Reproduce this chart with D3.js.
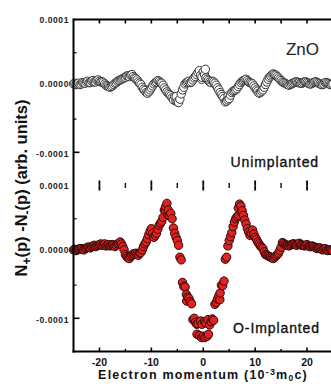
<!DOCTYPE html>
<html><head><meta charset="utf-8">
<script src="https://cdn.jsdelivr.net/npm/d3@7"></script>
<style>body{margin:0;background:#fff}svg{display:block}</style>
</head><body>
<script>
// momentum grid (10^-3 m0c)
const momentum = [-25,-24.5,-24,-23.5,-23,-22.5,-22,-21.5,-21,-20.5,-20,-19.5,-19,-18.5,-18,-17.5,-17,-16.5,-16,-15.5,-15,-14.5,-14,-13.5,-13,-12.5,-12,-11.5,-11,-10.5,-10,-9.5,-9,-8.5,-8,-7.5,-7,-6.5,-6,-5.5,-5,-4.5,-4,-3.5,-3,-2.5,-2,-1.5,-1,-0.5,0,0.5,1,1.5,2,2.5,3,3.5,4,4.5,5,5.5,6,6.5,7,7.5,8,8.5,9,9.5,10,10.5,11,11.5,12,12.5,13,13.5,14,14.5,15,15.5,16,16.5,17,17.5,18,18.5,19,19.5,20,20.5,21,21.5,22,22.5,23,23.5,24,24.5,25];
const momentumHalf = [-24.75,-24.25,-23.75,-23.25,-22.75,-22.25,-21.75,-21.25,-20.75,-20.25,-19.75,-19.25,-18.75,-18.25,-17.75,-17.25,-16.75,-16.25,-15.75,-15.25,-14.75,-14.25,-13.75,-13.25,-12.75,-12.25,-11.75,-11.25,-10.75,-10.25,-9.75,-9.25,-8.75,-8.25,-7.75,-7.25,-6.75,-6.25,-5.75,-5.25,-4.75,-4.25,-3.75,-3.25,-2.75,-2.25,-1.75,-1.25,-0.75,-0.25,0.25,0.75,1.25,1.75,2.25,2.75,3.25,3.75,4.25,4.75,5.25,5.75,6.25,6.75,7.25,7.75,8.25,8.75,9.25,9.75,10.25,10.75,11.25,11.75,12.25,12.75,13.25,13.75,14.25,14.75,15.25,15.75,16.25,16.75,17.25,17.75,18.25,18.75,19.25,19.75,20.25,20.75,21.25,21.75,22.25,22.75,23.25,23.75,24.25,24.75];
// values in units of 1e-5
const unimplanted = [0.3,0.2,0.4,0.3,0.5,0.6,0.5,0.7,0.6,0.8,0.7,0.6,0.3,0.0,-0.2,0.0,0.4,0.7,0.9,1.1,1.3,1.5,1.6,1.4,1.1,0.6,0.2,-0.5,-1.0,-0.9,-0.3,0.3,0.6,0.7,0.4,-0.3,-0.9,-1.3,-1.8,-1.6,-2.4,-2.0,-0.6,0.3,0.6,0.5,0.9,1.4,2.0,1.6,2.1,1.2,0.8,0.5,0.6,0.1,-0.6,-1.3,-1.9,-2.3,-1.9,-1.0,-0.7,-0.4,0.2,0.7,0.9,0.8,0.5,0.3,-0.3,-0.8,-1.0,-0.6,0.2,1.0,1.5,1.8,1.6,1.2,0.8,0.5,0.3,0.1,0.3,0.5,0.6,0.5,0.4,0.6,0.5,0.3,0.4,0.6,0.5,0.3,0.2,0.5,0.4,0.2,0.3];
const unimplantedHalf = [0.4,0.3,0.2,0.5,0.4,0.7,0.5,0.8,0.6,0.9,
  0.6,0.5,0.1,-0.1,-0.1,0.2,0.5,0.8,1.0,1.2,
  1.5,1.4,1.7,1.2,0.9,0.4,-0.2,-0.7,-1.1,-0.6,
  0.0,0.5,0.8,0.5,0.1,-0.6,-1.1,-1.5,-2.1,-2.3,
  -2.5,-1.2,-0.2,0.5,0.7,0.6,1.2,1.7,2.3,1.3,
  1.7,1.0,0.6,0.7,0.4,-0.3,-1.0,-1.6,-2.4,-2.1,
  -1.4,-0.8,-0.6,-0.1,0.5,0.8,1.0,0.6,0.4,0.0,
  -0.6,-1.1,-0.8,-0.2,0.6,1.3,1.7,1.7,1.4,1.0,
  0.6,0.4,0.2,0.2,0.4,0.6,0.5,0.4,0.5,0.6,
  0.4,0.3,0.5,0.6,0.4,0.2,0.3,0.5,0.3,0.2];
const oImplanted = [0.3,0.2,0.4,0.5,0.3,0.6,0.7,0.8,1.0,0.9,1.1,1.0,1.2,1.0,0.9,1.1,0.8,1.2,1.5,0.8,-0.4,-0.9,-0.7,-0.3,-0.2,-0.5,-0.1,0.8,1.5,2.6,3.5,2.2,2.8,4.0,4.6,6.3,7.3,5.4,5.0,2.8,1.7,-0.8,-4.6,-5.3,-6.8,-7.5,-10.2,-10.6,-10.8,-10.4,-12.7,-10.7,-12.4,-10.5,-10.3,-7.6,-6.6,-5.0,-4.4,-0.8,1.7,2.9,4.5,5.3,7.2,6.2,4.8,3.5,2.5,3.3,2.2,1.5,0.9,0.5,-0.4,-0.6,-0.8,-1.0,-0.6,-0.2,0.7,1.3,1.0,0.9,1.1,1.2,1.0,1.3,1.0,0.9,1.1,0.8,0.9,0.7,0.5,0.6,0.3,0.5,0.2,0.3,0.1];
const oImplantedHalf = [0.4,0.3,0.5,0.4,0.5,0.7,0.6,0.9,0.8,1.0,
  1.2,1.1,0.9,1.1,1.0,1.0,1.0,1.3,1.2,0.3,
  -0.7,-1.0,-0.5,-0.4,-0.3,-0.2,0.3,1.2,2.0,3.1,
  2.8,2.5,3.4,4.3,5.2,6.8,6.3,5.8,3.6,2.2,
  1.0,-1.2,-5.2,-6.4,-7.0,-7.8,-10.0,-10.9,-12.6,-10.9,
  -10.5,-12.7,-11.0,-10.1,-7.9,-7.1,-6.2,-5.1,-1.1,0.9,
  2.3,3.8,5.0,6.6,6.9,5.5,4.2,3.0,2.8,2.7,
  1.9,1.2,0.7,0.0,-0.5,-0.7,-0.9,-0.8,-0.4,0.2,
  1.4,1.1,1.0,1.0,1.2,1.1,1.2,1.1,1.0,1.0,
  0.9,0.8,0.8,0.6,0.6,0.4,0.4,0.3,0.3,0.2];
// a few extra scattered points (momentum, value 1e-5)
const oImplantedExtraX = [-7.3,-6.8,-1.2,0.9,-0.3,0.3,7.3,6.8,-3.2,3.2];
const oImplantedExtraY = [6.2,5.6,-12.4,-10.2,-12.9,-12.9,6.0,5.5,-7.4,-7.2];
const unimplantedExtraX = [-0.3,-5.2,4.8,0.4];
const unimplantedExtraY = [1.0,-1.6,-1.5,2.5];

const xTicks = [-20,-10,0,10,20];
const xMinor = [-25,-15,-5,5,15,25];
const yMajor = [1e-4,0,-1e-4];
const yMinor = [5e-5,-5e-5];
const panels = [
  {label:"Unimplanted", labelPos:[319,167], ys:unimplanted, ysHalf:unimplantedHalf, exX:unimplantedExtraX, exY:unimplantedExtraY, fill:"#ffffff", stroke:"#333"},
  {label:"O-Implanted", labelPos:[320,333], ys:oImplanted, ysHalf:oImplantedHalf, exX:oImplantedExtraX, exY:oImplantedExtraY, fill:"#e3211f", stroke:"#2a0b0b"}
];

const W=331,H=389;
const svg=d3.select("body").append("svg").attr("width",W).attr("height",H);
const pL=73.5, pR=333, pT=19.5, pB=351.5;
const panelH=(pB-pT)/2;
const x=d3.scaleLinear().domain([-25,25]).range([pL,pR]);
const font="Liberation Sans, Arial, sans-serif";
const labelDy = {"0.0001":1.5,"0.0000":-1,"-0.0001":2.5};

panels.forEach((p,i)=>{
  const y0=pT+i*panelH, y1=y0+panelH;
  const y=d3.scaleLinear().domain([-1.5e-4,1e-4]).range([y1,y0]);
  const g=svg.append("g");
  yMajor.filter(v=>v<1e-4).forEach(v=>g.append("line").attr("x1",pL).attr("x2",pL+6).attr("y1",y(v)).attr("y2",y(v)).attr("stroke","#000").attr("stroke-width",1.6));
  yMinor.forEach(v=>g.append("line").attr("x1",pL).attr("x2",pL+3).attr("y1",y(v)).attr("y2",y(v)).attr("stroke","#000").attr("stroke-width",1.2));
  yMajor.forEach(v=>{
    const t=d3.format(".4f")(v).replace("−","-");
    g.append("text").attr("x",69).attr("y",y(v)+2+labelDy[t]).attr("text-anchor","end")
     .attr("font-family",font).attr("font-weight","bold").attr("font-size",8.5).attr("letter-spacing",0.6).attr("fill","#222").text(t);
  });
  const minorIn=xMinor.filter(v=>Math.abs(v)<25);
  if(i===0){
    xTicks.concat(minorIn).forEach(v=>g.append("line").attr("x1",x(v)).attr("x2",x(v)).attr("y1",y0).attr("y2",y0+4).attr("stroke","#000").attr("stroke-width",1.6));
    xTicks.forEach(v=>g.append("line").attr("x1",x(v)).attr("x2",x(v)).attr("y1",y1).attr("y2",y1-5).attr("stroke","#000").attr("stroke-width",1.8));
    minorIn.forEach(v=>g.append("line").attr("x1",x(v)).attr("x2",x(v)).attr("y1",y1).attr("y2",y1-2.5).attr("stroke","#000").attr("stroke-width",1.4));
  } else {
    xTicks.forEach(v=>g.append("line").attr("x1",x(v)).attr("x2",x(v)).attr("y1",y0).attr("y2",y0+5).attr("stroke","#000").attr("stroke-width",1.8));
    minorIn.forEach(v=>g.append("line").attr("x1",x(v)).attr("x2",x(v)).attr("y1",y0).attr("y2",y0+2.5).attr("stroke","#000").attr("stroke-width",1.4));
    xTicks.forEach(v=>g.append("line").attr("x1",x(v)).attr("x2",x(v)).attr("y1",y1).attr("y2",y1-4).attr("stroke","#000").attr("stroke-width",1.6));
    minorIn.forEach(v=>g.append("line").attr("x1",x(v)).attr("x2",x(v)).attr("y1",y1).attr("y2",y1-2.5).attr("stroke","#000").attr("stroke-width",1.4));
  }
  const pts=momentum.map((m,k)=>[m,p.ys[k]])
    .concat(momentumHalf.map((m,k)=>[m,p.ysHalf[k]]))
    .concat(p.exX.map((m,k)=>[m,p.exY[k]]))
    .sort((a,b)=>a[0]-b[0]);
  g.selectAll("circle").data(pts).join("circle")
    .attr("cx",d=>x(d[0])).attr("cy",d=>y(d[1]*1e-5)).attr("r",4.2)
    .attr("fill",p.fill).attr("stroke",p.stroke).attr("stroke-width",1);
  g.append("text").attr("x",p.labelPos[0]).attr("y",p.labelPos[1]).attr("text-anchor","end")
    .attr("font-family",font).attr("font-size",14).attr("letter-spacing",0.9)
    .attr("fill","#111").attr("stroke","#111").attr("stroke-width",0.35).text(p.label);
});

svg.append("line").attr("x1",pL).attr("x2",pR).attr("y1",pT).attr("y2",pT).attr("stroke","#000").attr("stroke-width",2);
svg.append("line").attr("x1",pL).attr("x2",pL).attr("y1",pT-1).attr("y2",pB+1).attr("stroke","#000").attr("stroke-width",2);
svg.append("line").attr("x1",pL-1).attr("x2",pR).attr("y1",pB).attr("y2",pB).attr("stroke","#000").attr("stroke-width",2);

xTicks.forEach(v=>svg.append("text").attr("x",x(v)).attr("y",365.5).attr("text-anchor","middle")
  .attr("font-family",font).attr("font-weight","bold").attr("font-size",10.5).attr("fill","#111").text(String(v)));

const xt=svg.append("text").attr("x",203).attr("y",379).attr("text-anchor","middle")
  .attr("font-family",font).attr("font-weight","bold").attr("font-size",12.5).attr("letter-spacing",1.2).attr("fill","#111");
xt.append("tspan").text("Electron momentum (10");
xt.append("tspan").attr("dy",-4.5).attr("font-size",9).text("-3");
xt.append("tspan").attr("dy",4.5).text("m");
xt.append("tspan").attr("dy",2).attr("font-size",8.5).text("0");
xt.append("tspan").attr("dy",-2).text("c)");

const yt=svg.append("text").attr("transform","translate(27,188) rotate(-90)").attr("text-anchor","middle")
  .attr("font-family",font).attr("font-weight","bold").attr("font-size",16.5).attr("fill","#111");
yt.append("tspan").text("N");
yt.append("tspan").attr("dy",4).attr("font-size",12).text("+");
yt.append("tspan").attr("dy",-4).text("(p) -N");
yt.append("tspan").attr("dy",4).attr("font-size",12).text("-");
yt.append("tspan").attr("dy",-4).text("(p) (arb. units)");

svg.append("text").attr("x",319).attr("y",55).attr("text-anchor","end").attr("font-family",font)
  .attr("font-size",17).attr("fill","#222").text("ZnO");
</script>
</body></html>
